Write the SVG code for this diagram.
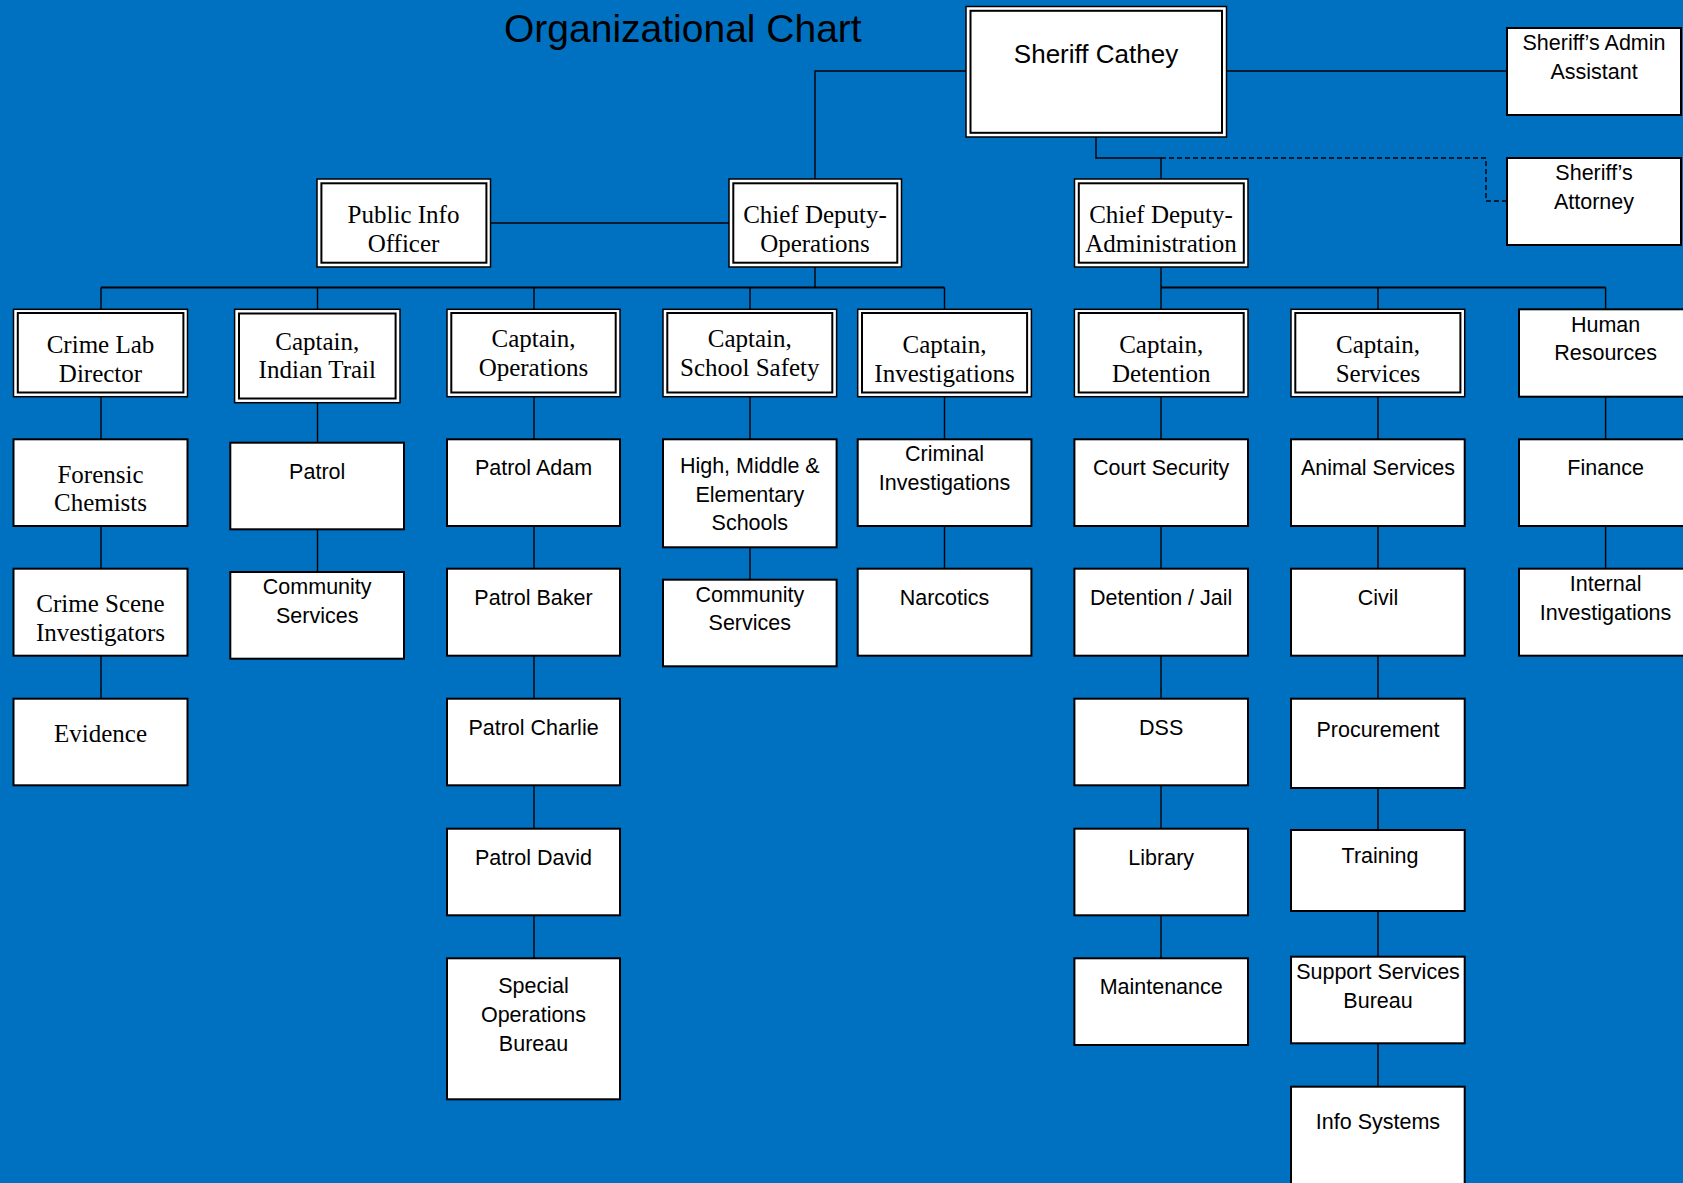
<svg xmlns="http://www.w3.org/2000/svg" width="1683" height="1183" viewBox="0 0 1683 1183">
<style>
.bg{fill:#0070C0}
.box{fill:#fff;stroke:#000;stroke-width:2}
.outer{fill:#fff;stroke:#000;stroke-width:1.5}
.inner{fill:none;stroke:#000;stroke-width:2}
.conn{fill:none;stroke:#000;stroke-width:1.4}
.bus{fill:none;stroke:#000;stroke-width:2}
.dash{fill:none;stroke:#000;stroke-width:1.4;stroke-dasharray:5 3}
.serif{font-family:"Liberation Serif","DejaVu Serif",serif;font-size:25px;fill:#000;text-anchor:middle}
.sans{font-family:"Liberation Sans","DejaVu Sans",sans-serif;font-size:21.5px;fill:#000;text-anchor:middle}
.big{font-family:"Liberation Sans","DejaVu Sans",sans-serif;font-size:26px;fill:#000;text-anchor:middle}
.title{font-family:"Liberation Sans","DejaVu Sans",sans-serif;font-size:39px;fill:#000}
</style>
<rect class="bg" x="0" y="0" width="1683" height="1183"/>
<text class="title" x="504" y="42">Organizational Chart</text>

<g id="connectors">
  <polyline class="conn" points="966,71 815,71 815,179"/>
  <line class="conn" x1="1226" y1="71" x2="1507" y2="71"/>
  <polyline class="conn" points="1096,137 1096,158 1161,158 1161,179"/>
  <polyline class="dash" points="1161,158 1486,158 1486,201 1507,201"/>
  <line class="conn" x1="490" y1="223" x2="729" y2="223"/>
  <line class="conn" x1="815" y1="267" x2="815" y2="287.5"/>
  <line class="bus" x1="101" y1="287.5" x2="944.5" y2="287.5"/>
  <line class="conn" x1="1161" y1="267" x2="1161" y2="287.5"/>
  <line class="bus" x1="1161" y1="287.5" x2="1605.6" y2="287.5"/>
  <line class="conn" x1="101" y1="287.5" x2="101" y2="699"/>
  <line class="conn" x1="317.5" y1="287.5" x2="317.5" y2="572"/>
  <line class="conn" x1="534" y1="287.5" x2="534" y2="958"/>
  <line class="conn" x1="750" y1="287.5" x2="750" y2="580"/>
  <line class="conn" x1="944.5" y1="287.5" x2="944.5" y2="569"/>
  <line class="conn" x1="1161" y1="287.5" x2="1161" y2="958"/>
  <line class="conn" x1="1378" y1="287.5" x2="1378" y2="1087"/>
  <line class="conn" x1="1605.6" y1="287.5" x2="1605.6" y2="569"/>
</g>

<g id="sheriff">
  <rect class="outer" x="966" y="6.5" width="260.5" height="130.5"/>
  <rect class="inner" x="970.5" y="10.8" width="251.5" height="122"/>
  <text class="big" x="1096" y="63">Sheriff Cathey</text>
</g>
<g id="admin-assistant">
  <rect class="box" x="1507" y="28" width="174" height="87"/>
  <text class="sans" x="1594" y="50">Sheriff’s Admin</text>
  <text class="sans" x="1594" y="79">Assistant</text>
</g>
<g id="attorney">
  <rect class="box" x="1507" y="158" width="174" height="87"/>
  <text class="sans" x="1594" y="180">Sheriff’s</text>
  <text class="sans" x="1594" y="209">Attorney</text>
</g>
<g id="pio">
  <rect class="outer" x="317" y="179" width="173.5" height="88"/>
  <rect class="inner" x="321.4" y="183.3" width="165" height="79.4"/>
  <text class="serif" x="403.5" y="223">Public Info</text>
  <text class="serif" x="403.5" y="252">Officer</text>
</g>
<g id="cd-operations">
  <rect class="outer" x="729" y="179" width="172.5" height="88"/>
  <rect class="inner" x="733.3" y="183.3" width="164" height="79.4"/>
  <text class="serif" x="815" y="223">Chief Deputy-</text>
  <text class="serif" x="815" y="252">Operations</text>
</g>
<g id="cd-administration">
  <rect class="outer" x="1074.5" y="179" width="173.5" height="88"/>
  <rect class="inner" x="1078.8" y="183.3" width="165" height="79.4"/>
  <text class="serif" x="1161" y="223">Chief Deputy-</text>
  <text class="serif" x="1161" y="252">Administration</text>
</g>

<g id="crime-lab">
  <rect class="outer" x="13.5" y="309.3" width="174" height="87.4"/>
  <rect class="inner" x="17.8" y="313" width="165.6" height="79.5"/>
  <text class="serif" x="100.5" y="353">Crime Lab</text>
  <text class="serif" x="100.5" y="382">Director</text>
</g>
<g id="capt-indian-trail">
  <rect class="outer" x="234.6" y="309.3" width="165.4" height="93.4"/>
  <rect class="inner" x="239" y="313.5" width="156.6" height="85"/>
  <text class="serif" x="317.3" y="350">Captain,</text>
  <text class="serif" x="317.3" y="378">Indian Trail</text>
</g>
<g id="capt-operations">
  <rect class="outer" x="447" y="309.3" width="173" height="87.4"/>
  <rect class="inner" x="451.3" y="313" width="164.4" height="79.5"/>
  <text class="serif" x="533.5" y="347">Captain,</text>
  <text class="serif" x="533.5" y="376">Operations</text>
</g>
<g id="capt-school-safety">
  <rect class="outer" x="663" y="309.3" width="173.6" height="87.4"/>
  <rect class="inner" x="667.3" y="313" width="165" height="79.5"/>
  <text class="serif" x="749.8" y="347">Captain,</text>
  <text class="serif" x="749.8" y="376">School Safety</text>
</g>
<g id="capt-investigations">
  <rect class="outer" x="857.7" y="309.3" width="173.7" height="87.4"/>
  <rect class="inner" x="862" y="313" width="165.1" height="79.5"/>
  <text class="serif" x="944.5" y="353">Captain,</text>
  <text class="serif" x="944.5" y="382">Investigations</text>
</g>
<g id="capt-detention">
  <rect class="outer" x="1074.4" y="309.3" width="173.6" height="87.4"/>
  <rect class="inner" x="1078.7" y="313" width="165" height="79.5"/>
  <text class="serif" x="1161.2" y="353">Captain,</text>
  <text class="serif" x="1161.2" y="382">Detention</text>
</g>
<g id="capt-services">
  <rect class="outer" x="1291" y="309.3" width="173.7" height="87.4"/>
  <rect class="inner" x="1295.3" y="313" width="165.1" height="79.5"/>
  <text class="serif" x="1378" y="353">Captain,</text>
  <text class="serif" x="1378" y="382">Services</text>
</g>
<g id="human-resources">
  <rect class="box" x="1519" y="309.3" width="174" height="87.4"/>
  <text class="sans" x="1605.6" y="331.7">Human</text>
  <text class="sans" x="1605.6" y="360">Resources</text>
</g>

<g id="forensic-chemists">
  <rect class="box" x="13.5" y="439.3" width="174" height="86.7"/>
  <text class="serif" x="100.5" y="482.7">Forensic</text>
  <text class="serif" x="100.5" y="511">Chemists</text>
</g>
<g id="patrol">
  <rect class="box" x="230.3" y="442.7" width="173.7" height="86.6"/>
  <text class="sans" x="317.2" y="479.3">Patrol</text>
</g>
<g id="patrol-adam">
  <rect class="box" x="447" y="439.3" width="173" height="86.7"/>
  <text class="sans" x="533.5" y="475">Patrol Adam</text>
</g>
<g id="schools">
  <rect class="box" x="663" y="439.3" width="173.6" height="108"/>
  <text class="sans" x="749.8" y="472.7">High, Middle &amp;</text>
  <text class="sans" x="749.8" y="501.7">Elementary</text>
  <text class="sans" x="749.8" y="530">Schools</text>
</g>
<g id="criminal-investigations">
  <rect class="box" x="857.7" y="439.3" width="173.7" height="86.7"/>
  <text class="sans" x="944.5" y="460.7">Criminal</text>
  <text class="sans" x="944.5" y="490">Investigations</text>
</g>
<g id="court-security">
  <rect class="box" x="1074.4" y="439.3" width="173.6" height="86.7"/>
  <text class="sans" x="1161.2" y="475">Court Security</text>
</g>
<g id="animal-services">
  <rect class="box" x="1291" y="439.3" width="173.7" height="86.7"/>
  <text class="sans" x="1378" y="475">Animal Services</text>
</g>
<g id="finance">
  <rect class="box" x="1519" y="439.3" width="174" height="86.7"/>
  <text class="sans" x="1605.6" y="475">Finance</text>
</g>

<g id="crime-scene">
  <rect class="box" x="13.5" y="568.7" width="174" height="87"/>
  <text class="serif" x="100.5" y="611.7">Crime Scene</text>
  <text class="serif" x="100.5" y="640.7">Investigators</text>
</g>
<g id="community-services-it">
  <rect class="box" x="230.3" y="572" width="173.7" height="86.7"/>
  <text class="sans" x="317.2" y="594">Community</text>
  <text class="sans" x="317.2" y="622.7">Services</text>
</g>
<g id="patrol-baker">
  <rect class="box" x="447" y="568.7" width="173" height="87"/>
  <text class="sans" x="533.5" y="605">Patrol Baker</text>
</g>
<g id="community-services-ss">
  <rect class="box" x="663" y="579.7" width="173.6" height="86.6"/>
  <text class="sans" x="749.8" y="601.7">Community</text>
  <text class="sans" x="749.8" y="630">Services</text>
</g>
<g id="narcotics">
  <rect class="box" x="857.7" y="568.7" width="173.7" height="87"/>
  <text class="sans" x="944.5" y="605">Narcotics</text>
</g>
<g id="detention-jail">
  <rect class="box" x="1074.4" y="568.7" width="173.6" height="87"/>
  <text class="sans" x="1161.2" y="605">Detention / Jail</text>
</g>
<g id="civil">
  <rect class="box" x="1291" y="568.7" width="173.7" height="87"/>
  <text class="sans" x="1378" y="605">Civil</text>
</g>
<g id="internal-investigations">
  <rect class="box" x="1519" y="568.7" width="174" height="87"/>
  <text class="sans" x="1605.6" y="591">Internal</text>
  <text class="sans" x="1605.6" y="620">Investigations</text>
</g>

<g id="evidence">
  <rect class="box" x="13.5" y="698.7" width="174" height="86.6"/>
  <text class="serif" x="100.5" y="741.7">Evidence</text>
</g>
<g id="patrol-charlie">
  <rect class="box" x="447" y="698.7" width="173" height="86.6"/>
  <text class="sans" x="533.5" y="735">Patrol Charlie</text>
</g>
<g id="dss">
  <rect class="box" x="1074.4" y="698.7" width="173.6" height="86.6"/>
  <text class="sans" x="1161.2" y="735">DSS</text>
</g>
<g id="procurement">
  <rect class="box" x="1291" y="698.7" width="173.7" height="89.3"/>
  <text class="sans" x="1378" y="736.7">Procurement</text>
</g>

<g id="patrol-david">
  <rect class="box" x="447" y="828.7" width="173" height="86.6"/>
  <text class="sans" x="533.5" y="865">Patrol David</text>
</g>
<g id="library">
  <rect class="box" x="1074.4" y="828.7" width="173.6" height="86.6"/>
  <text class="sans" x="1161.2" y="865">Library</text>
</g>
<g id="training">
  <rect class="box" x="1291" y="830" width="173.7" height="81"/>
  <text class="sans" x="1380" y="863">Training</text>
</g>

<g id="special-operations">
  <rect class="box" x="447" y="958.3" width="173" height="141"/>
  <text class="sans" x="533.5" y="993.3">Special</text>
  <text class="sans" x="533.5" y="1022.3">Operations</text>
  <text class="sans" x="533.5" y="1050.7">Bureau</text>
</g>
<g id="maintenance">
  <rect class="box" x="1074.4" y="958.3" width="173.6" height="86.7"/>
  <text class="sans" x="1161.2" y="994">Maintenance</text>
</g>
<g id="support-services">
  <rect class="box" x="1291" y="956.7" width="173.7" height="86.6"/>
  <text class="sans" x="1378" y="979">Support Services</text>
  <text class="sans" x="1378" y="1008.3">Bureau</text>
</g>
<g id="info-systems">
  <rect class="box" x="1291" y="1086.7" width="173.7" height="110"/>
  <text class="sans" x="1378" y="1129.3">Info Systems</text>
</g>
</svg>
